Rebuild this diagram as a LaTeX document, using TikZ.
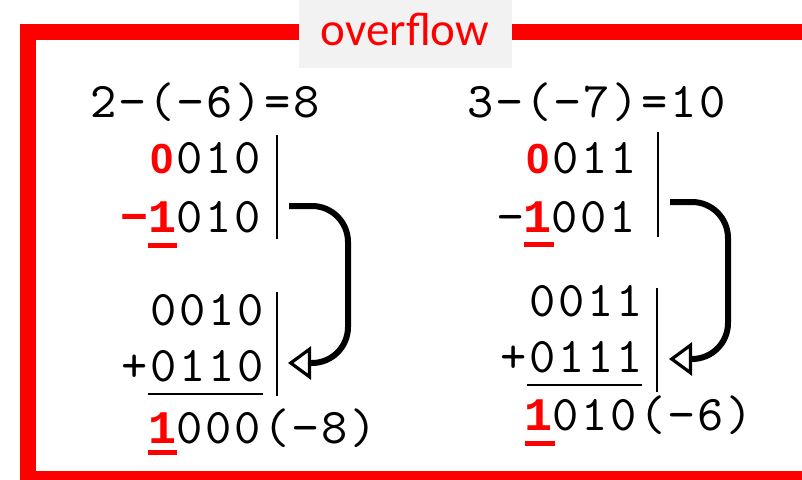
\documentclass[tikz,border=0pt]{standalone}
\usepackage{fontspec}
\usetikzlibrary{arrows.meta}
\newfontfamily\monofont[LetterSpace=5.5]{lmmono10-regular.otf}
\newfontfamily\boldmono{Liberation Mono}
\newfontfamily\boldsans{Liberation Sans}
\newfontfamily\titlefont{Carlito}
\definecolor{fred}{HTML}{FF0000}
\definecolor{boxgray}{HTML}{F2F2F2}
\newcommand{\rb}[1]{\makebox[28pt][c]{\textcolor{fred}{\fontsize{46.7}{50}\selectfont\boldmono\bfseries #1}}}
\newcommand{\rz}{\makebox[28pt][c]{\textcolor{fred}{\fontsize{42}{50}\selectfont\boldsans\bfseries 0}}}
\tikzset{
  mono/.style={font=\fontsize{50}{54}\selectfont\monofont, inner sep=0pt, anchor=base west, text=black},
  sep/.style={line width=2pt, black},
  uline/.style={line width=1.5pt, black},
  redline/.style={line width=5pt, fred},
  curvearrow/.style={line width=6pt, rounded corners=36pt, -{Triangle[open, length=23pt, width=33pt, line width=3.2pt]}},
}
\begin{document}
\begin{tikzpicture}[x=1pt, y=-1pt]
\useasboundingbox (0,0) rectangle (802,479);
\begin{scope}
\clip (0,0) rectangle (802,479);
% frame
\draw[fred, line width=16pt] (840,32) -- (28,32) -- (28,479) -- (840,479);
% title
\fill[boxgray] (299,0) rectangle (512,68);
\node[font=\fontsize{47}{50}\selectfont\titlefont, text=fred, inner sep=0pt, anchor=base] (title) at (405,45) {overflow};
\end{scope}

% left column
\node[mono] (eqA) at (90,117) {2−(−6)=8};
\node[mono] (a1) at (148,173) {\rz 010};
\node[mono] (a2) at (120,232) {\rb{−}\rb{1}010};
\node[mono] (a3) at (150,325) {0010};
\node[mono] (a4) at (121,381) {+0110};
\node[mono] (a5) at (148,443) {\rb{1}000(−8)};
\draw[redline] (148,245) -- (177,245);
\draw[uline] (148,394) -- (263,394);
\draw[redline] (148,452) -- (177,452);
\draw[sep] (277,135) -- (277,239);
\draw[sep] (277,292) -- (277,396);
\coordinate (aS) at (289,206);
\coordinate (aE) at (288,363);
\draw[curvearrow] (aS) -| (348,363) -- (aE);

% right column
\node[mono] (eqB) at (467,117) {3−(−7)=10};
\node[mono] (b1) at (524,173) {\rz 011};
\node[mono] (b2) at (497,232) {−\rb{1}001};
\node[mono] (b3) at (529,316) {0011};
\node[mono] (b4) at (500,372) {+0111};
\node[mono] (b5) at (524,430) {\rb{1}010(−6)};
\draw[redline] (524,244) -- (554,244);
\draw[uline] (527,385) -- (642,385);
\draw[redline] (525,443) -- (555,443);
\draw[sep] (658,132) -- (658,237);
\draw[sep] (657,288) -- (657,392);
\coordinate (bS) at (670,202);
\coordinate (bE) at (669,359);
\draw[curvearrow] (bS) -| (728,359) -- (bE);
\end{tikzpicture}
\end{document}
